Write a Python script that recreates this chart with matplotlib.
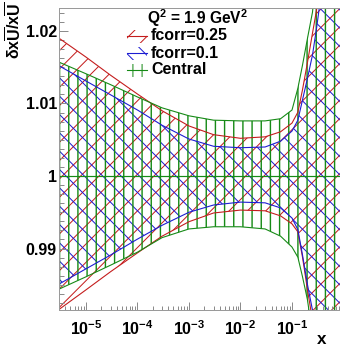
import matplotlib
matplotlib.use("Agg")
import matplotlib.pyplot as plt
from matplotlib.patches import Rectangle
from matplotlib.lines import Line2D
from matplotlib.ticker import LogLocator, MultipleLocator, FixedLocator, FixedFormatter, NullFormatter

DPI = 55  # hatch spacing = dpi / 6 px, ~9 px like the original
W, H = 340, 347

# x grid
x = [3e-6, 1e-5, 3e-5, 1e-4, 3e-4, 1e-3, 3e-3, 1e-2, 3e-2, 6e-2,
     0.1, 0.13, 0.16, 0.2, 0.25, 0.3, 0.4, 0.6, 0.85]

# band edges, dxU/xU
fc25_hi = [1.0190, 1.0164, 1.0139, 1.0113, 1.0090, 1.0069, 1.0057, 1.0052, 1.0054, 1.0061,
           1.0073, 1.0088, 1.0119, 1.0157, 1.0197, 1.0229, 1.030, 1.040, 1.050]
fc25_lo = [0.9816, 0.9843, 0.9868, 0.9894, 0.9917, 0.9937, 0.9949, 0.9953, 0.9952, 0.9945,
           0.9934, 0.9923, 0.9888, 0.9843, 0.9801, 0.975, 0.965, 0.955, 0.945]
fc10_hi = [1.0152, 1.0131, 1.0112, 1.0091, 1.0070, 1.0051, 1.0041, 1.0039, 1.0040, 1.0048,
           1.0062, 1.0077, 1.0105, 1.0135, 1.0167, 1.0204, 1.027, 1.037, 1.050]
fc10_lo = [0.9851, 0.9872, 0.9891, 0.9913, 0.9932, 0.9950, 0.9960, 0.9964, 0.9963, 0.9956,
           0.9942, 0.9926, 0.9891, 0.9850, 0.9815, 0.977, 0.970, 0.960, 0.950]
cen_hi = [1.0157, 1.0141, 1.0126, 1.0109, 1.0094, 1.0083, 1.0077, 1.0076, 1.0076, 1.0079,
          1.0091, 1.0121, 1.0153, 1.0190, 1.0226, 1.028, 1.035, 1.045, 1.055]
cen_lo = [0.9844, 0.9861, 0.9877, 0.9895, 0.9915, 0.9927, 0.9930, 0.9930, 0.9927, 0.9917,
          0.9902, 0.9888, 0.9861, 0.9829, 0.978, 0.974, 0.965, 0.955, 0.945]

labels = ["fcorr=0.25", "fcorr=0.1", "Central"]
colors = ["#c41c1c", "#1c1cd2", "#168a16"]
hatches = ["/", "\\", "|"]
bands = [(fc25_lo, fc25_hi), (fc10_lo, fc10_hi), (cen_lo, cen_hi)]

y_ticks = [0.99, 1.0, 1.01, 1.02]
y_ticklabels = ["0.99", "1", "1.01", "1.02"]


def px(n):
    # pixels -> points at this dpi
    return n * 72.0 / DPI


plt.rcParams['font.family'] = ['Liberation Sans', 'DejaVu Sans']
plt.rcParams['font.weight'] = 'bold'
plt.rcParams['mathtext.fontset'] = 'custom'
plt.rcParams['mathtext.rm'] = 'Liberation Sans:bold'
plt.rcParams['mathtext.it'] = 'Liberation Sans:bold'
plt.rcParams['mathtext.bf'] = 'Liberation Sans:bold'
plt.rcParams['mathtext.default'] = 'rm'
plt.rcParams['hatch.linewidth'] = px(1.0)

fig = plt.figure(figsize=(W / DPI, H / DPI), dpi=DPI)
ax = fig.add_axes([59 / W, 37 / H, 1 - 59 / W, 302 / H])

for (lo, hi), c, h in zip(bands, colors, hatches):
    lw_h = px(1.4) if h == "|" else px(1.0)
    with plt.rc_context({"hatch.linewidth": lw_h}):
        ax.fill_between(x, lo, hi, facecolor="none", edgecolor=c, linewidth=0, hatch=h)
for (lo, hi), c in zip(bands, colors):
    ax.plot(x, hi, color=c, lw=px(1.1))
    ax.plot(x, lo, color=c, lw=px(1.1))
ax.axhline(1.0, color=colors[2], lw=px(1.2))

ax.set_xscale("log")
ax.set_xlim(10 ** -5.524, 10 ** -0.068)
ax.set_ylim(0.98152, 1.02317)

ax.xaxis.set_major_locator(LogLocator(base=10))
ax.xaxis.set_minor_locator(LogLocator(base=10, subs=range(2, 10)))
ax.xaxis.set_minor_formatter(NullFormatter())
ax.yaxis.set_major_locator(FixedLocator(y_ticks))
ax.yaxis.set_major_formatter(FixedFormatter(y_ticklabels))
ax.yaxis.set_minor_locator(MultipleLocator(0.00125))

ax.tick_params(which="both", direction="in", color="#8c8c8c", width=px(1),
               top=False, right=False, labelsize=px(16))
ax.tick_params(axis="x", which="major", length=px(8), pad=px(9))
ax.tick_params(axis="x", which="minor", length=px(4))
ax.tick_params(axis="y", which="major", length=px(9), pad=px(2))
ax.tick_params(axis="y", which="minor", length=px(5))

for s in ["left", "bottom", "top"]:
    ax.spines[s].set_color("#9a9a9a")
    ax.spines[s].set_linewidth(px(1))
ax.spines["right"].set_visible(False)

# axis titles
fig.text(322 / W, 1 - 340 / H, "x", ha="center", va="center", fontsize=px(17))
fig.text(14 / W, 1 - 2 / H, r"$\delta x\overline{U}/x\overline{U}$", rotation=90,
         ha="center", va="top", fontsize=px(16))

# legend
fig.text(198 / W, 1 - 18 / H, r"Q$^{2}$ = 1.9 GeV$^{2}$", ha="center", va="center",
         fontsize=px(15.5))
for i, (lab, c, h) in enumerate(zip(labels, colors, hatches)):
    yc = 36 + 17 * i
    fig.add_artist(Rectangle((127 / W, 1 - (yc + 6.5) / H), 20 / W, 13 / H,
                             transform=fig.transFigure, facecolor="none",
                             edgecolor=c, linewidth=0, hatch=h))
    fig.add_artist(Line2D([127 / W, 147 / W], [1 - yc / H] * 2,
                          transform=fig.transFigure, color=c, lw=px(1.1)))
    fig.text(151 / W, 1 - yc / H, lab, ha="left", va="center", fontsize=px(16))

fig.savefig("out.png", dpi=DPI)
